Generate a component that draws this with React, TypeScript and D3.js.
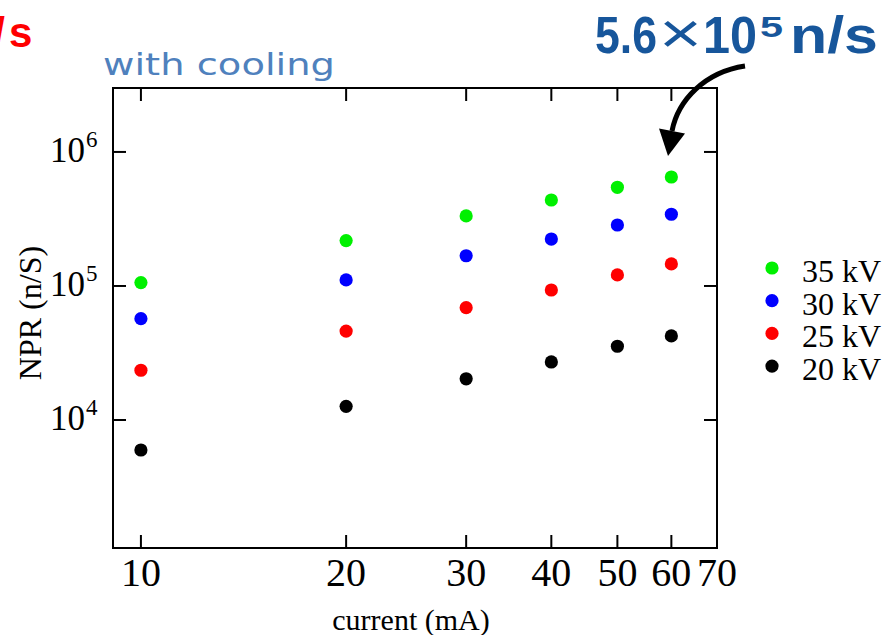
import React from "react";
import * as d3 from "d3";

const currents = [10, 20, 30, 40, 50, 60];
const series = ["35 kV", "30 kV", "25 kV", "20 kV"];
const colors = ["#00f000", "#0000ff", "#ff0000", "#000000"];
const npr35 = [1.06e5, 2.18e5, 3.33e5, 4.38e5, 5.45e5, 6.5e5];
const npr30 = [5.7e4, 1.11e5, 1.68e5, 2.24e5, 2.85e5, 3.43e5];
const npr25 = [2.35e4, 4.61e4, 6.89e4, 9.33e4, 1.21e5, 1.46e5];
const npr20 = [5.97e3, 1.265e4, 2.03e4, 2.71e4, 3.55e4, 4.24e4];
const values = [npr35, npr30, npr25, npr20];
const xTicks = [10, 20, 30, 40, 50, 60, 70];
const yTickExps = [4, 5, 6];

const W = 884, H = 635;
const L = 113, R = 717, T = 88, B = 548;

export default function App() {
  const x = d3.scaleLog().domain([9.1, 70]).range([L, R]);
  const y = d3.scaleLog().domain([1109, 3.0e6]).range([B, T]);
  const serif = "'Liberation Serif', 'Times New Roman', serif";
  const sans = "'Liberation Sans', Arial, sans-serif";
  const tk = 13;

  const arrowPath = d3.path();
  arrowPath.moveTo(745, 66);
  arrowPath.bezierCurveTo(705, 72, 678, 100, 672, 131);

  return (
    <div style={{ position: "absolute", left: 0, top: 0 }}>
      <svg width={W} height={H} style={{ display: "block", background: "#fff" }}>
        {/* clipped red text top-left */}
        <text x={5} y={47} textAnchor="end" fontFamily={sans} fontWeight="bold" fontSize={42} fill="#ff0000">n/</text>
        <text x={9} y={47} fontFamily={sans} fontWeight="bold" fontSize={42} fill="#ff0000">s</text>

        {/* subtitle */}
        <text x={103} y={75} fontFamily="'DejaVu Sans', sans-serif" fontSize={31} fill="#4f81bd" textLength={232} lengthAdjust="spacingAndGlyphs">with cooling</text>

        {/* annotation */}
        <g fill="#17569b" fontFamily={sans} fontWeight="bold">
          <text x={595} y={53} fontSize={52} textLength={62} lengthAdjust="spacingAndGlyphs">5.6</text>
          <text x={659} y={53} fontSize={57} fontWeight="normal" textLength={43} lengthAdjust="spacingAndGlyphs">×</text>
          <text x={703} y={53} fontSize={52} textLength={54} lengthAdjust="spacingAndGlyphs">10</text>
          <text x={760} y={37} fontSize={29} textLength={23} lengthAdjust="spacingAndGlyphs">5</text>
          <text x={790} y={53} fontSize={52} textLength={88} lengthAdjust="spacingAndGlyphs">n/s</text>
        </g>
        <path d={arrowPath.toString()} fill="none" stroke="#000" strokeWidth={5} />
        <polygon points="668,156 659,128.5 685,133.5" fill="#000" />

        {/* frame */}
        <rect x={L} y={T} width={R - L} height={B - T} fill="none" stroke="#000" strokeWidth={2} />

        {/* x ticks */}
        {xTicks.filter((t) => t < 70).map((t) => (
          <g key={"xt" + t}>
            <line x1={x(t)} x2={x(t)} y1={B} y2={B - tk} stroke="#000" strokeWidth={2} />
            <line x1={x(t)} x2={x(t)} y1={T} y2={T + tk} stroke="#000" strokeWidth={2} />
          </g>
        ))}
        {xTicks.map((t) => (
          <text key={"xl" + t} x={x(t)} y={586} textAnchor="middle" fontFamily={serif} fontSize={40} fill="#000">{t}</text>
        ))}

        {/* y ticks */}
        {yTickExps.map((e) => {
          const v = Math.pow(10, e);
          return (
            <g key={"yt" + e}>
              <line x1={L} x2={L + tk} y1={y(v)} y2={y(v)} stroke="#000" strokeWidth={2} />
              <line x1={R} x2={R - tk} y1={y(v)} y2={y(v)} stroke="#000" strokeWidth={2} />
              <text x={85} y={y(v) + 10} textAnchor="end" fontFamily={serif} fontSize={35} fill="#000">10</text>
              <text x={86} y={y(v) - 5} fontFamily={serif} fontSize={23} fill="#000">{e}</text>
            </g>
          );
        })}

        {/* axis labels */}
        <text x={411} y={630} textAnchor="middle" fontFamily={serif} fontSize={30} fill="#000">current (mA)</text>
        <text transform="translate(41,313) rotate(-90)" textAnchor="middle" fontFamily={serif} fontSize={32} fill="#000">NPR (n/S)</text>

        {/* points */}
        {values.map((vals, si) =>
          vals.map((v, i) => (
            <circle key={si + "-" + i} cx={x(currents[i])} cy={y(v)} r={6.6} fill={colors[si]} />
          ))
        )}

        {/* legend */}
        {series.map((s, i) => (
          <g key={"lg" + s} transform={`translate(0,${268 + i * 32.7})`}>
            <circle cx={772} cy={0} r={6.6} fill={colors[i]} />
            <text x={802} y={14} fontFamily={serif} fontSize={32} fill="#000">{s}</text>
          </g>
        ))}
      </svg>
    </div>
  );
}
